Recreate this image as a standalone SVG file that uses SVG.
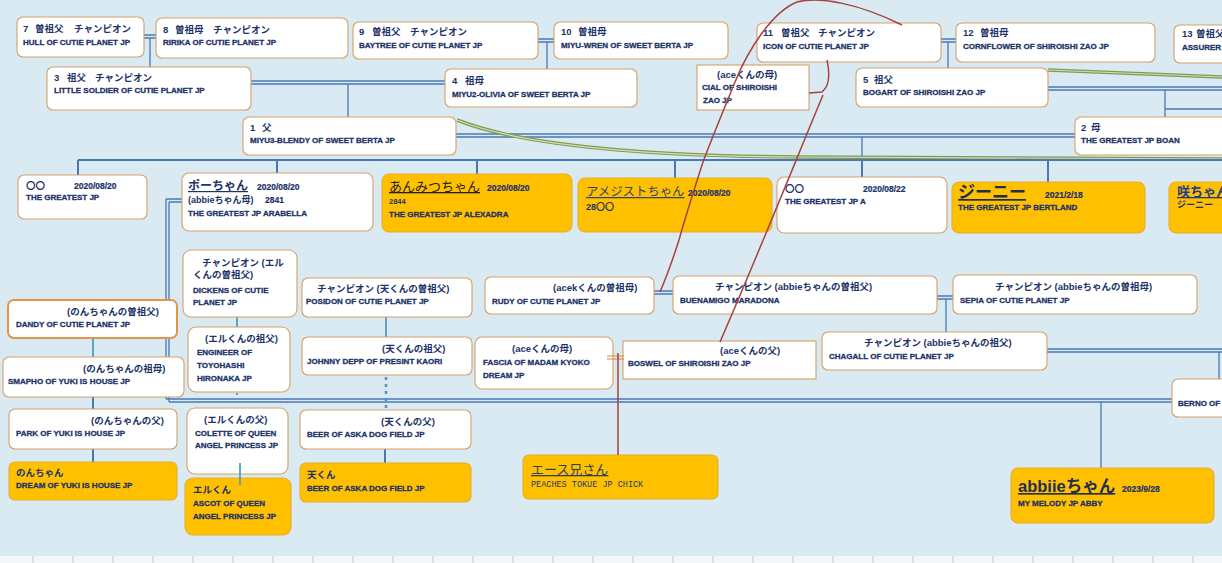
<svg xmlns="http://www.w3.org/2000/svg" width="1222" height="563" viewBox="0 0 1222 563">
<style>
.w{fill:#fff;stroke:#d6a068;stroke-width:1.1}
.o{fill:#ffc000;stroke:#e8ad2e;stroke-width:1.1}
.t{font-family:"Liberation Sans","Noto Sans CJK JP",sans-serif;font-weight:bold;fill:#1c3268}
.h{font-size:9.5px}
.n{font-size:8px;stroke:#1c3268;stroke-width:0.3}
.d{font-size:8.5px;stroke:#1c3268;stroke-width:0.2}
.ln{fill:none;stroke:#4a78b5;stroke-width:1.3}
.lw{fill:none;stroke:#4a78b5;stroke-width:2}
.tl{fill:none;stroke:#4f9dc3;stroke-width:1.8}
.rd{fill:none;stroke:#a9413d;stroke-width:1.5}
.big{text-decoration:underline}
</style>
<rect width="1222" height="563" fill="#daeaf2"/>
<rect y="556" width="1222" height="7" fill="#f3f7f9"/>
<g stroke="#c4c8cc" stroke-width="1">
<path d="M33 556V563M73 556V563M113 556V563M153 556V563M193 556V563M233 556V563M273 556V563M313 556V563M353 556V563M393 556V563M433 556V563M473 556V563M513 556V563M553 556V563M593 556V563M633 556V563M673 556V563M713 556V563M753 556V563M793 556V563M833 556V563M873 556V563M913 556V563M953 556V563M993 556V563M1033 556V563M1073 556V563M1113 556V563M1153 556V563M1193 556V563"/>
</g>

<g id="connectors">
<path class="ln" d="M144 35H156M144 38H156M150 38V67"/>
<path class="ln" d="M538 39H554M538 42H554M547 42V69"/>
<path class="ln" d="M941 39H957M941 42H957M948 42V69"/>
<path class="ln" d="M251 81H445M251 84H445M348 84V117"/>
<path class="ln" d="M1048 87H1222M1048 90H1222M1165 90V118M1165 109H1222"/>
<path class="ln" d="M456 134H1075M456 137H1075M862 137V160"/>
<path fill="none" stroke="#7f9c4c" stroke-width="3.5" d="M457 120C520 145 640 156 800 157L1222 159"/>
<path fill="none" stroke="#d9dcc0" stroke-width="1.2" d="M457 120C520 145 640 156 800 157L1222 159"/>
<path fill="none" stroke="#7f9c4c" stroke-width="3.5" d="M1048 70L1222 77"/>
<path fill="none" stroke="#d9dcc0" stroke-width="1.2" d="M1048 70L1222 77"/>
<path class="lw" d="M78 160H1222M78 160V175M277 160V173M477 160V174M675 160V178M862 160V177M1048 160V182"/>
<path class="ln" d="M166 199H182M169 202H182M166 199V399M169 202V402M166 399H1172M169 402H1172"/>
<path class="ln" d="M1101 402V468"/>
<path class="ln" d="M654 291H673M654 294H673"/>
<path class="ln" d="M937 296H953M937 299H953M946 299V332"/>
<path class="ln" d="M1047 349H1222M1047 352H1222M1219 352V379"/>
<path class="tl" d="M93 338V357"/>
<path class="lw" d="M93 397V409M93 449V462"/>
<path class="tl" d="M237 317V327"/>
<path class="tl" stroke-dasharray="2,6" stroke-width="3" d="M237 393V404"/>
<path class="tl" d="M386 317V337"/>
<path fill="none" stroke="#5a8fc4" stroke-width="2.5" stroke-dasharray="3,4" d="M386 377V410"/>
<path class="lw" d="M385 449V463"/>
</g>

<g id="n7"><rect class="w" x="17" y="17" width="127" height="40" rx="6"/><text class="t h" y="32"><tspan x="23">7</tspan><tspan x="35">曽祖父</tspan><tspan x="74">チャンピオン</tspan></text><text class="t n" x="23" y="45">HULL OF CUTIE PLANET JP</text></g>
<g id="n8"><rect class="w" x="156" y="18" width="192" height="40" rx="6"/><text class="t h" y="33"><tspan x="163">8</tspan><tspan x="175">曽祖母</tspan><tspan x="213">チャンピオン</tspan></text><text class="t n" x="163" y="45">RIRIKA OF CUTIE PLANET JP</text></g>
<g id="n9"><rect class="w" x="353" y="22" width="185" height="37" rx="6"/><text class="t h" y="35"><tspan x="359">9</tspan><tspan x="372">曽祖父</tspan><tspan x="410">チャンピオン</tspan></text><text class="t n" x="359" y="48">BAYTREE OF CUTIE PLANET JP</text></g>
<g id="n10"><rect class="w" x="554" y="22" width="174" height="37" rx="6"/><text class="t h" y="35"><tspan x="561">10</tspan><tspan x="578">曽祖母</tspan></text><text class="t n" x="561" y="48">MIYU-WREN OF SWEET BERTA JP</text></g>
<g id="n11"><rect class="w" x="757" y="23" width="184" height="39" rx="6"/><text class="t h" y="36"><tspan x="763">11</tspan><tspan x="781">曽祖父</tspan><tspan x="818">チャンピオン</tspan></text><text class="t n" x="763" y="49">ICON OF CUTIE PLANET JP</text></g>
<g id="n12"><rect class="w" x="956" y="23" width="199" height="39" rx="6"/><text class="t h" y="36"><tspan x="963">12</tspan><tspan x="980">曽祖母</tspan></text><text class="t n" x="963" y="49">CORNFLOWER OF SHIROISHI ZAO JP</text></g>
<g id="n13"><rect class="w" x="1174" y="25" width="60" height="38" rx="6"/><text class="t h" y="37"><tspan x="1182">13</tspan><tspan x="1196">曽祖父</tspan></text><text class="t n" x="1182" y="50">ASSURER</text></g>
<g id="n3"><rect class="w" x="47" y="67" width="204" height="43" rx="6"/><text class="t h" y="81"><tspan x="54">3</tspan><tspan x="67">祖父</tspan><tspan x="95">チャンピオン</tspan></text><text class="t n" x="54" y="93">LITTLE SOLDIER OF CUTIE PLANET JP</text></g>
<g id="n4"><rect class="w" x="445" y="69" width="192" height="38" rx="6"/><text class="t h" y="84"><tspan x="452">4</tspan><tspan x="465">祖母</tspan></text><text class="t n" x="452" y="97">MIYU2-OLIVIA OF SWEET BERTA JP</text></g>
<g id="cial"><rect class="w" x="697" y="65" width="112" height="45"/><text class="t h" x="717" y="78">(aceくんの母)</text><text class="t n" x="702" y="90">CIAL OF SHIROISHI</text><text class="t n" x="703" y="103">ZAO JP</text></g>
<g id="n5"><rect class="w" x="856" y="68" width="192" height="39" rx="6"/><text class="t h" y="83"><tspan x="863">5</tspan><tspan x="874">祖父</tspan></text><text class="t n" x="863" y="95">BOGART OF SHIROISHI ZAO JP</text></g>
<g id="n1"><rect class="w" x="243" y="117" width="213" height="38" rx="6"/><text class="t h" y="131"><tspan x="250">1</tspan><tspan x="262">父</tspan></text><text class="t n" x="250" y="143">MIYU3-BLENDY OF SWEET BERTA JP</text></g>
<g id="n2"><rect class="w" x="1075" y="117" width="160" height="38" rx="6"/><text class="t h" y="131"><tspan x="1081">2</tspan><tspan x="1091">母</tspan></text><text class="t n" x="1081" y="143">THE GREATEST JP BOAN</text></g>

<g id="c1"><rect class="w" x="18" y="175" width="129" height="44" rx="6"/><text class="t h" x="26" y="189">〇〇</text><text class="t d" x="74" y="189">2020/08/20</text><text class="t n" x="26" y="200">THE GREATEST JP</text></g>
<g id="c2"><rect class="w" x="182" y="173" width="191" height="58" rx="7"/><text class="t big" x="188" y="190" font-size="12" fill="#1f3a8a">ポーちゃん</text><text class="t d" x="257" y="190">2020/08/20</text><text class="t" x="188" y="203" font-size="9">(abbieちゃん母)</text><text class="t d" x="265" y="203">2841</text><text class="t n" x="188" y="216">THE GREATEST JP ARABELLA</text></g>
<g id="c3"><rect class="o" x="382" y="174" width="190" height="58" rx="7"/><text class="t big" x="389" y="191" font-size="13" style="font-weight:normal;fill:#222">あんみつちゃん</text><text class="t d" x="487" y="191">2020/08/20</text><text class="t" x="389" y="204" font-size="7.5">2844</text><text class="t n" x="389" y="217">THE GREATEST JP ALEXADRA</text></g>
<g id="c4"><rect class="o" x="578" y="178" width="194" height="54" rx="7"/><text class="t big" x="586" y="196" font-size="12.4" style="font-weight:normal;fill:#34466a">アメジストちゃん</text><text class="t d" x="688" y="196">2020/08/20</text><text class="t" x="586" y="210" font-size="9">28〇〇</text></g>
<g id="c5"><rect class="w" x="777" y="177" width="170" height="56" rx="7"/><text class="t h" x="785" y="192">〇〇</text><text class="t d" x="863" y="192">2020/08/22</text><text class="t n" x="785" y="204">THE GREATEST JP A</text></g>
<g id="c6"><rect class="o" x="952" y="182" width="193" height="51" rx="7"/><text class="t big" x="958" y="198" font-size="17" style="fill:#1f2f50">ジーニー</text><text class="t d" x="1045" y="198">2021/2/18</text><text class="t n" x="958" y="210">THE GREATEST JP BERTLAND</text></g>
<g id="c7"><rect class="o" x="1169" y="182" width="60" height="51" rx="7"/><text class="t big" x="1177" y="196" font-size="13" style="fill:#1f3a8a">咲ちゃん</text><text class="t" x="1177" y="208" font-size="9">ジーニー</text></g>

<g id="dandy"><rect x="8" y="300" width="169" height="38" rx="6" fill="#fff" stroke="#e0964a" stroke-width="2"/><text class="t h" x="67" y="315">(のんちゃんの曽祖父)</text><text class="t n" x="16" y="327">DANDY OF CUTIE PLANET JP</text></g>
<g id="smapho"><rect class="w" x="3" y="357" width="181" height="40" rx="6"/><text class="t h" x="83" y="372">(のんちゃんの祖母)</text><text class="t n" x="8" y="384">SMAPHO OF YUKI IS HOUSE JP</text></g>
<g id="park"><rect class="w" x="9" y="409" width="168" height="40" rx="6"/><text class="t h" x="91" y="424">(のんちゃんの父)</text><text class="t n" x="16" y="436">PARK OF YUKI IS HOUSE JP</text></g>
<g id="non"><rect class="o" x="9" y="462" width="168" height="38" rx="6"/><text class="t h" x="16" y="476">のんちゃん</text><text class="t n" x="16" y="488">DREAM OF YUKI IS HOUSE JP</text></g>

<g id="dickens"><rect class="w" x="183" y="250" width="114" height="67" rx="8"/><text class="t h" x="202" y="266">チャンピオン (エル</text><text class="t h" x="193" y="278">くんの曽祖父)</text><text class="t n" x="193" y="293">DICKENS OF CUTIE</text><text class="t n" x="193" y="305">PLANET JP</text></g>
<g id="engineer"><rect class="w" x="188" y="327" width="102" height="65" rx="8"/><text class="t h" x="205" y="342">(エルくんの祖父)</text><text class="t n" x="197" y="355">ENGINEER OF</text><text class="t n" x="197" y="368">TOYOHASHI</text><text class="t n" x="197" y="381">HIRONAKA JP</text></g>
<g id="colette"><rect class="w" x="187" y="408" width="101" height="66" rx="8"/><text class="t h" x="204" y="423">(エルくんの父)</text><text class="t n" x="195" y="436">COLETTE OF QUEEN</text><text class="t n" x="195" y="448">ANGEL PRINCESS JP</text></g>
<g id="eru"><rect class="o" x="185" y="478" width="106" height="57" rx="8"/><text class="t h" x="193" y="493">エルくん</text><text class="t n" x="193" y="506">ASCOT OF QUEEN</text><text class="t n" x="193" y="519">ANGEL PRINCESS JP</text></g>

<g id="posidon"><rect class="w" x="302" y="278" width="170" height="39" rx="6"/><text class="t h" x="317" y="292">チャンピオン (天くんの曽祖父)</text><text class="t n" x="306" y="304">POSIDON OF CUTIE PLANET JP</text></g>
<g id="johnny"><rect class="w" x="302" y="337" width="170" height="38" rx="6"/><text class="t h" x="382" y="352">(天くんの祖父)</text><text class="t n" x="307" y="364">JOHNNY DEPP OF PRESINT KAORI</text></g>
<g id="beer"><rect class="w" x="300" y="410" width="171" height="39" rx="6"/><text class="t h" x="381" y="425">(天くんの父)</text><text class="t n" x="307" y="437">BEER OF ASKA DOG FIELD JP</text></g>
<g id="ten"><rect class="o" x="300" y="463" width="171" height="39" rx="6"/><text class="t h" x="307" y="478">天くん</text><text class="t n" x="307" y="491">BEER OF ASKA DOG FIELD JP</text></g>

<g id="rudy"><rect class="w" x="485" y="277" width="169" height="37" rx="6"/><text class="t h" x="553" y="291">(acekくんの曽祖母)</text><text class="t n" x="492" y="304">RUDY OF CUTIE PLANET JP</text></g>
<g id="buenamigo"><rect class="w" x="673" y="276" width="264" height="38" rx="6"/><text class="t h" x="715" y="290">チャンピオン (abbieちゃんの曽祖父)</text><text class="t n" x="680" y="303">BUENAMIGO MARADONA</text></g>
<g id="sepia"><rect class="w" x="953" y="275" width="244" height="39" rx="6"/><text class="t h" x="995" y="290">チャンピオン (abbieちゃんの曽祖母)</text><text class="t n" x="960" y="303">SEPIA OF CUTIE PLANET JP</text></g>
<g id="fascia"><rect class="w" x="475" y="337" width="138" height="52" rx="7"/><text class="t h" x="512" y="352">(aceくんの母)</text><text class="t n" x="483" y="365">FASCIA OF MADAM KYOKO</text><text class="t n" x="483" y="378">DREAM JP</text></g>
<g id="boswel"><rect class="w" x="623" y="341" width="193" height="38"/><text class="t h" x="720" y="354">(aceくんの父)</text><text class="t n" x="628" y="366">BOSWEL OF SHIROISHI ZAO JP</text></g>
<g id="chagall"><rect class="w" x="822" y="332" width="225" height="38" rx="6"/><text class="t h" x="864" y="346">チャンピオン (abbieちゃんの祖父)</text><text class="t n" x="829" y="359">CHAGALL  OF CUTIE PLANET JP</text></g>
<g id="berno"><rect class="w" x="1172" y="379" width="60" height="38" rx="6"/><text class="t n" x="1178" y="406">BERNO OF</text></g>
<g id="abbiie"><rect class="o" x="1011" y="468" width="203" height="55" rx="7"/><text class="t big" x="1018" y="492" font-size="16.5" style="fill:#1f2f50">abbiieちゃん</text><text class="t d" x="1122" y="492">2023/9/28</text><text class="t n" x="1018" y="506">MY MELODY JP ABBY</text></g>
<g id="ace"><rect class="o" x="523" y="455" width="195" height="44" rx="6"/><text class="t big" x="531" y="474" font-size="13" style="font-weight:normal;fill:#2f4060">エース兄さん</text><text x="531" y="487" font-family="Liberation Mono, monospace" font-size="8.5" fill="#1f3a6e">PEACHES TOKUE JP CHICK</text></g>

<g id="connectors-red">
<path class="rd" d="M902 25C860 4 820 -4 797 2C772 12 748 50 735 82C722 114 712 138 703 162C694 190 686 215 679 240C672 262 666 278 660 292"/>
<path class="rd" d="M827 60C830 74 830 86 822 92L809 93M823 95C800 150 760 250 720 342"/>
<path fill="none" stroke="#e0863a" stroke-width="1.2" d="M607 356H624M607 359H624"/>
<path class="rd" d="M618 353V455"/>
<path class="tl" d="M240 463V485"/>
</g>
</svg>
